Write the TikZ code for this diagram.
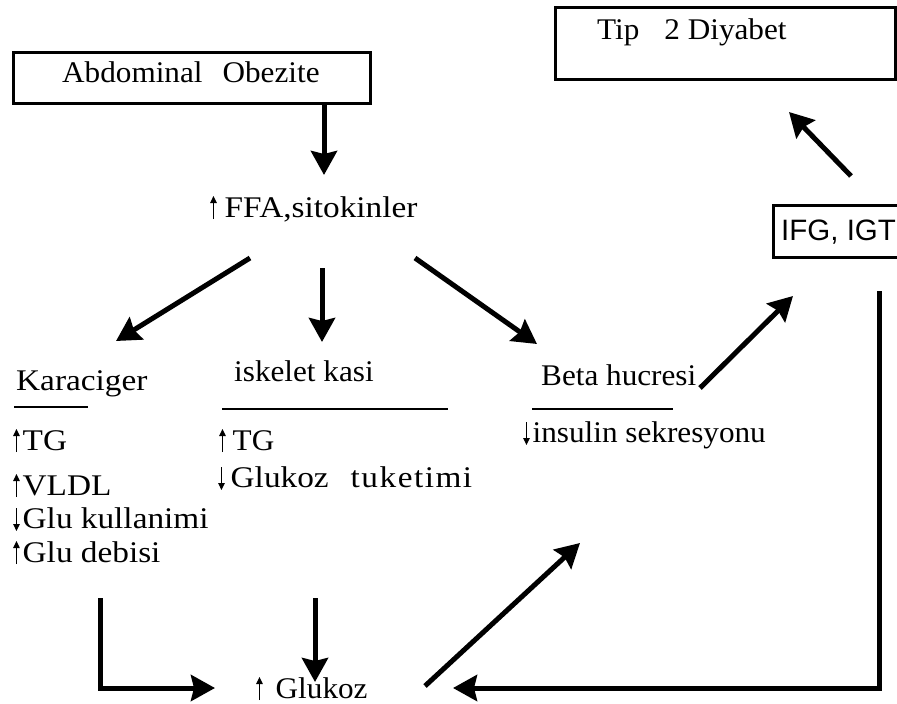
\documentclass[tikz,border=0pt]{standalone}
\usepackage{fontspec}
\setmainfont{Liberation Serif}[FakeStretch=1.04]
\newfontfamily\widefont{Liberation Serif}[FakeStretch=1.11]
\newfontfamily\ifgfont{Liberation Sans}
\usetikzlibrary{arrows.meta}
\newcommand{\uparr}{\tikz[x=1pt,y=1pt,baseline=0pt]\draw[line width=1.2pt,-{Triangle[length=7pt,width=6.5pt]}] (0,-2) -- (0,21);\hspace{3pt}}
\newcommand{\dnarr}{\tikz[x=1pt,y=1pt,baseline=0pt]\draw[line width=1.2pt,-{Triangle[length=7pt,width=6.5pt]}] (0,20) -- (0,-3);\hspace{3pt}}
\tikzset{
  txt/.style={anchor=base west, inner sep=0pt, font=\fontsize{30}{32}\selectfont},
  widetxt/.style={anchor=base west, inner sep=0pt, font=\widefont\fontsize{30}{32}\selectfont},
  boxline/.style={draw=black, line width=3pt},
  ularrow/.style={line width=5pt, -{Stealth[length=24pt,width=26pt,inset=3pt]}},
  uline/.style={line width=2pt}
}
\begin{document}
\begin{tikzpicture}[x=1pt,y=-1pt]
\useasboundingbox (0,0) rectangle (897,704);
\clip (0,0) rectangle (897,704);
% boxes
\draw[boxline] (13,52) rectangle (370,103);
\node[txt] (abd) at (62,82) {Abdominal\hspace{20pt}Obezite};
\draw[boxline] (555,7) rectangle (895,79);
\node[txt] (tip) at (597,39) {Tip\hspace{25pt}2 Diyabet};
\draw[boxline] (773,205) rectangle (910,257);
\node[txt, font=\ifgfont\fontsize{29.5}{31}\selectfont] (ifg) at (781,240) {IFG, IGT};
% texts
\node[widetxt] (ffa) at (210,217) {\uparr\hspace{5pt}FFA,sitokinler};
\node[widetxt] (kar) at (16,390) {Karaciger};
\node[txt] (isk) at (234,381) {iskelet kasi};
\node[txt] (beta) at (541,385) {Beta hucresi};
\draw[uline] (14,407) -- (88,407);
\draw[uline] (222,409) -- (448,409);
\draw[uline] (532,409) -- (673,409);
\node[widetxt] (k1) at (13,450) {\uparr TG};
\node[widetxt] (k2) at (13,495) {\uparr VLDL};
\node[widetxt] (k3) at (13,528) {\dnarr Glu kullanimi};
\node[widetxt] (k4) at (13,562) {\uparr Glu debisi};
\node[txt] (i1) at (219,450) {\uparr\hspace{4pt}TG};
\node[widetxt] (i2) at (218,487) {\dnarr\hspace{3pt}Glukoz\hspace{22pt}{\addfontfeature{LetterSpace=5}tuketimi}};
\node[txt] (b1) at (523,442) {\dnarr insulin sekresyonu};
\node[txt] (glu) at (256,698) {\uparr\hspace{10pt}Glukoz};
% coordinates
\coordinate (a1s) at (324,105); \coordinate (a1e) at (324,175);
\coordinate (a2s) at (250,258); \coordinate (a2e) at (116,341);
\coordinate (a3s) at (322,268); \coordinate (a3e) at (322,342);
\coordinate (a4s) at (415,258); \coordinate (a4e) at (537,344);
\coordinate (a5s) at (700,388); \coordinate (a5e) at (793,296);
\coordinate (a6s) at (851,176); \coordinate (a6e) at (789,112);
\coordinate (a7s) at (315,598); \coordinate (a7e) at (315,682);
\coordinate (a8s) at (100,598); \coordinate (a8m) at (100,688); \coordinate (a8e) at (215,688);
\coordinate (a9s) at (425,686); \coordinate (a9e) at (580,543);
\coordinate (a10s) at (879,291); \coordinate (a10m) at (879,688); \coordinate (a10e) at (453,688);
% arrows
\draw[ularrow] (a1s) -- (a1e);
\draw[ularrow] (a2s) -- (a2e);
\draw[ularrow] (a3s) -- (a3e);
\draw[ularrow] (a4s) -- (a4e);
\draw[ularrow] (a5s) -- (a5e);
\draw[ularrow] (a6s) -- (a6e);
\draw[ularrow] (a7s) -- (a7e);
\draw[ularrow] (a8s) -- (a8m) -- (a8e);
\draw[ularrow] (a9s) -- (a9e);
\draw[ularrow] (a10s) -- (a10m) -- (a10e);
\end{tikzpicture}
\end{document}
